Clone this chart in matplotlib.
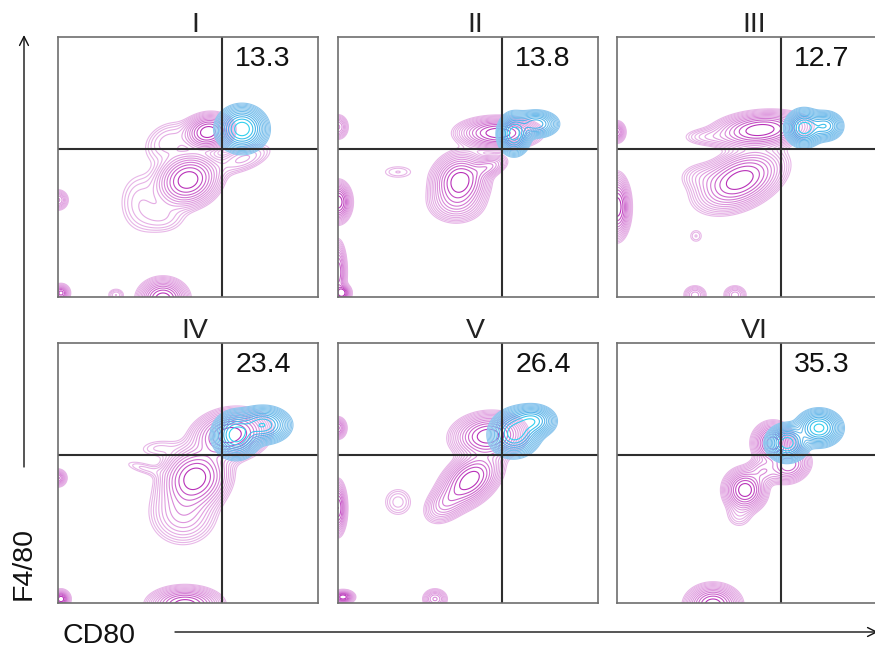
import numpy as np
import matplotlib
matplotlib.use("Agg")
import matplotlib.pyplot as plt
from matplotlib.colors import LinearSegmentedColormap as LSC

plt.rcParams['font.family'] = ['Liberation Sans', 'DejaVu Sans']

PANEL_TITLES = ["I", "II", "III", "IV", "V", "VI"]
PERCENTS = ["13.3", "13.8", "12.7", "23.4", "26.4", "35.3"]

# populations: centre x, centre y, sd x, sd y, tilt deg, height
# coordinates run 0-260 across each panel, y from the panel's top
MAG_I = [(150, 95, 11, 8, 10, 1.0), (130, 143, 15, 12, 20, 1.0), (110, 105, 15, 11, 30, .12),
         (82, 165, 13, 18, 0, .09), (105, 180, 14, 10, 0, .09),
         (185, 122, 17, 7, 20, .14), (105, 262, 11, 9, 0, 1.0), (58, 258, 5, 4, 0, .1),
         (0, 163, 5, 5, 0, .3), (3, 256, 4, 4, 0, .7)]
BLU_I = [(184, 92, 11, 10, 0, 1.0)]
MAG_II = [(160, 96, 18, 7, 0, 1.0), (122, 144, 13, 12, 40, 1.0), (150, 130, 10, 5, 20, .3),
          (118, 166, 14, 10, 0, .25), (60, 135, 12, 5, 0, .06), (0, 90, 5, 6, 0, .3),
          (0, 165, 6, 9, 0, 1.0), (0, 235, 4, 14, 0, .6), (4, 256, 4, 4, 0, 1.0)]
BLU_II = [(176, 97, 7, 9, 0, 1.0), (198, 87, 10, 6, 0, .6)]
MAG_III = [(143, 93, 21, 8, 5, 1.0), (123, 143, 21, 12, 25, 1.0), (90, 100, 14, 5, 0, .1),
           (85, 140, 13, 8, 0, .1), (0, 95, 4, 5, 0, .5), (0, 170, 6, 14, 0, 1.0),
           (79, 199, 5, 5, 0, .06), (78, 258, 6, 5, 0, .2), (118, 258, 6, 5, 0, .2)]
BLU_III = [(187, 91, 8, 8, 0, 1.0), (208, 89, 8, 6.5, 0, .6)]
MAG_IV = [(172, 92, 17, 11, 10, 1.0), (137, 135, 16, 14, 30, 1.0), (125, 170, 17, 16, 0, .25),
          (100, 105, 14, 6, 5, .06), (85, 125, 14, 4, -15, .06), (0, 135, 4, 4, 0, .5),
          (127, 262, 16, 8, 0, 1.0), (3, 256, 4, 4, 0, 1.0)]
BLU_IV = [(178, 92, 10, 10, 0, 1.0), (205, 82, 12, 8, 0, .8)]
MAG_V = [(150, 93, 16, 10, 5, 1.0), (132, 137, 16, 10, 40, 1.0), (108, 160, 12, 8, 40, .3),
         (60, 159, 9, 9, 0, .09), (0, 165, 4, 12, 0, .8), (0, 85, 4, 5, 0, .5),
         (97, 256, 6, 5, 0, .3), (5, 254, 5, 3, 0, 1.0)]
BLU_V = [(177, 90, 11, 10, 20, 1.0), (195, 78, 10, 7, 0, .7)]
MAG_VI = [(156, 100, 9, 9, 0, 1.0), (128, 147, 9.5, 9.5, 0, 1.0), (172, 122, 10, 8, 20, .6),
          (146, 128, 8, 7, 0, .25), (122, 172, 8, 8, 0, .08), (96, 262, 12, 9, 0, 1.0)]
BLU_VI = [(170, 100, 9, 8, 0, 1.0), (202, 85, 10, 8, 0, .9)]
MAGENTA = [MAG_I, MAG_II, MAG_III, MAG_IV, MAG_V, MAG_VI]
BLUE = [BLU_I, BLU_II, BLU_III, BLU_IV, BLU_V, BLU_VI]

W, H = 875, 655
PANEL_LEFT = [58, 338, 617]
PANEL_TOP = [37, 343]
PANEL_SIZE = 260

cm_mag = LSC.from_list("m", ["#e8b8e8", "#d070d0", "#b830b8"])
cm_blu = LSC.from_list("b", ["#90c8ee", "#50b0e8", "#30d0ee"])
xx, yy = np.meshgrid(np.linspace(-20, 280, 601), np.linspace(-20, 280, 601))


def density(blobs):
    z = np.zeros_like(xx)
    for cx, cy, sx, sy, a, h in blobs:
        t = np.deg2rad(a)
        # positive tilt rises to the right on screen (y axis runs downward)
        u = (xx - cx) * np.cos(t) - (yy - cy) * np.sin(t)
        v = (xx - cx) * np.sin(t) + (yy - cy) * np.cos(t)
        z += h * np.exp(-0.5 * (u / sx) ** 2 - 0.5 * (v / sy) ** 2)
    return z


fig = plt.figure(figsize=(W / 100, H / 100), dpi=100)
levels = np.geomspace(0.035, 0.8, 13)
for i in range(6):
    r, c = divmod(i, 3)
    ax = fig.add_axes([PANEL_LEFT[c] / W, 1 - (PANEL_TOP[r] + PANEL_SIZE) / H,
                       PANEL_SIZE / W, PANEL_SIZE / H])
    ax.set_xlim(0, 260)
    ax.set_ylim(260, 0)
    ax.set_xticks([])
    ax.set_yticks([])
    for s in ax.spines.values():
        s.set_color("#6e6e6e")
        s.set_linewidth(1.2)
    ax.contour(xx, yy, density(MAGENTA[i]), levels=levels, cmap=cm_mag, linewidths=0.8)
    ax.contour(xx, yy, density(BLUE[i]), levels=levels, cmap=cm_blu, linewidths=0.8)
    ax.axvline(164, color="#2e2e2e", lw=1.5)
    ax.axhline(112, color="#2e2e2e", lw=1.5)
    ax.text(205, 22, PERCENTS[i], fontsize=20.5, ha="center", va="center", color="#111111")
    ax.text(137, -5, PANEL_TITLES[i], fontsize=20.5, ha="center", va="baseline", color="#222222",
            clip_on=False)

fig.text(24 / W, 1 - 563 / H, "F4/80", rotation=90, fontsize=20.5, ha="center", va="center", color="#111111")
fig.text(99 / W, 1 - 636 / H, "CD80", fontsize=20.5, ha="center", va="center", color="#111111")
arrow = dict(arrowstyle="->", lw=1.0, color="#111111", mutation_scale=16, shrinkA=0, shrinkB=0)
fig.add_artist(matplotlib.patches.FancyArrowPatch((24 / W, 1 - 467 / H), (24 / W, 1 - 35 / H),
                                                  transform=fig.transFigure, **arrow))
fig.add_artist(matplotlib.patches.FancyArrowPatch((175 / W, 1 - 632 / H), (878 / W, 1 - 632 / H),
                                                  transform=fig.transFigure, **arrow))
fig.savefig("out.png", dpi=100)
